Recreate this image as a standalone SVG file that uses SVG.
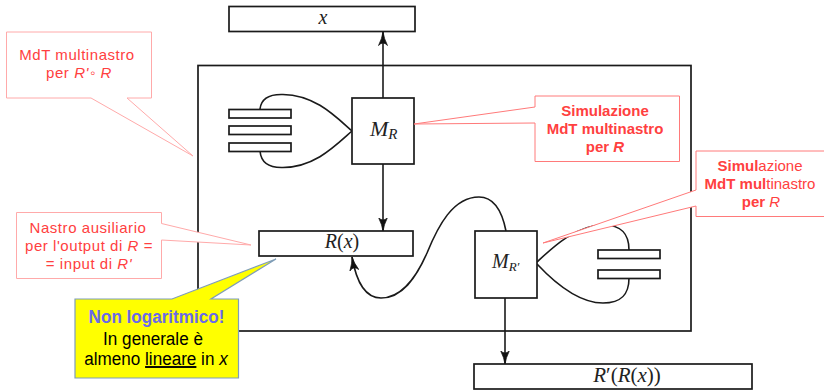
<svg xmlns="http://www.w3.org/2000/svg" width="824" height="390" viewBox="0 0 824 390">
<defs>
<marker id="arr" markerUnits="userSpaceOnUse" markerWidth="15" markerHeight="14" refX="13.500" refY="7" orient="auto">
<path d="M0,2.500 Q7,6 13.500,7 Q7,8 0,11.500 Q5,7 0,2.500 Z" fill="#111" stroke="#111" stroke-width="0.7"/>
</marker>
</defs>
<style>
.b{fill:#fff;stroke:#1a1a1a;stroke-width:1.7}
.f{fill:none;stroke:#1a1a1a;stroke-width:1.7}
.w{fill:none;stroke:#1a1a1a;stroke-width:1.6}
.c{fill:#fff;stroke:#ff7a7a;stroke-width:1}
.l{stroke:#ffaaaa}
.t{font-family:"Liberation Sans",Arial,sans-serif;font-size:15px;fill:#ff4040;text-anchor:middle}
.s{letter-spacing:0.55px}
.tb{font-weight:bold}
.m{font-family:"Liberation Serif","Times New Roman",serif;font-size:20px;fill:#222;text-anchor:middle}
.y{font-family:"Liberation Sans",Arial,sans-serif;font-size:19px;fill:#000;text-anchor:middle}
.i{font-style:italic}
</style>
<g id="frame"><rect class="f" x="198" y="65.500" width="493" height="265.500"/></g>
<g id="connectors">
<path class="w" d="M383,98 L383,32" marker-end="url(#arr)"/>
<path class="w" d="M383,164 L383,231" marker-end="url(#arr)"/>
<path class="w" d="M505,298 L505,364" marker-end="url(#arr)"/>
<path class="w" d="M506,231 C501,206 491,197 479,197 C453,197 438,226 427,253 C416,278 402,298 381,298 C365,298 356,280 352,257" marker-end="url(#arr)"/>
<path class="w" d="M352,131 C335,116 315,95 283,94.500 C268,94 261,100 260,109"/>
<path class="w" d="M352,131 C335,146 315,167 283,167.500 C268,168 261,162 260,151"/>
<path class="w" d="M537,262 C550,250 575,225 603,225 C622,225 629,234 629,250"/>
<path class="w" d="M537,264 C552,280 578,303 603,303 C622,303 629,294 629,278"/>
</g>
<g id="tape-x"><rect class="b" x="229" y="6.500" width="186" height="25"/><text class="m i" x="323" y="24">x</text></g>
<g id="machine-r"><rect class="b" x="352" y="98" width="62" height="66"/><text class="m i" x="370" y="136" style="font-size:22px;text-anchor:start">M<tspan dy="3" style="font-size:15px">R</tspan></text></g>
<g id="tapes-r">
<rect class="b" x="229" y="109.500" width="62" height="8.500"/>
<rect class="b" x="229" y="126" width="62" height="8.500"/>
<rect class="b" x="229" y="143" width="62" height="8.500"/>
</g>
<g id="tape-rx"><rect class="b" x="259" y="231" width="154" height="25"/><text class="m" x="342" y="248"><tspan class="i">R</tspan>(<tspan class="i">x</tspan>)</text></g>
<g id="machine-r2"><rect class="b" x="475" y="231" width="62" height="67"/><text class="m i" x="492" y="268" style="font-size:20px;text-anchor:start">M<tspan dy="3" style="font-size:13px">R′</tspan></text></g>
<g id="tapes-r2">
<rect class="b" x="598" y="250" width="62" height="8.500"/>
<rect class="b" x="598" y="270" width="62" height="8.500"/>
</g>
<g id="tape-rrx"><rect class="b" x="474" y="364" width="278" height="25"/><text class="m" x="627" y="382" style="font-size:21px"><tspan class="i">R</tspan>′(<tspan class="i">R</tspan>(<tspan class="i">x</tspan>))</text></g>
<g id="callout-mdt">
<path class="c l" d="M6.500,32 H151.500 V98 H127 L193,156 L91,98 H6.500 Z"/>
<text class="t s" x="77" y="60">MdT multinastro</text>
<text class="t s" x="79" y="78">per <tspan class="i">R'</tspan><tspan dx="1">◦</tspan> <tspan class="i">R</tspan></text>
</g>
<g id="callout-nastro">
<path class="c l" d="M16.500,212.500 H161.500 V223.500 L251,245 L161.500,240 V278.500 H16.500 Z"/>
<text class="t s" x="88" y="233">Nastro ausiliario</text>
<text class="t s" x="89" y="251">per l'output di <tspan class="i">R</tspan> =</text>
<text class="t s" x="89" y="269">= input di <tspan class="i">R'</tspan></text>
</g>
<g id="callout-logaritmico">
<path d="M75,299 H172 L276,259 L211,299 H238.500 V378 H75 Z" fill="#ffff00" stroke="#7f9db9" stroke-width="1.2"/>
<text class="y" transform="translate(156.500,323) scale(0.9,1)" style="fill:#6a6ae8;font-weight:bold">Non logaritmico!</text>
<text class="y" transform="translate(153,345) scale(0.9,1)">In generale è</text>
<text class="y" transform="translate(156,365) scale(0.9,1)">almeno <tspan text-decoration="underline">lineare</tspan> in <tspan class="i">x</tspan></text>
</g>
<g id="callout-sim1">
<path class="c" d="M535,96 H679.500 V161.500 H535 V123 L414,124 L535,107 Z"/>
<text class="t tb" x="605" y="116">Simulazione</text>
<text class="t tb" x="605" y="134">MdT multinastro</text>
<text class="t tb" x="605" y="152">per <tspan class="i">R</tspan></text>
</g>
<g id="callout-sim2">
<path class="c" d="M824,151 H696 V190 L543,243 L696,206 V216.500 H824"/>
<text class="t" x="760" y="171"><tspan class="tb">Simul</tspan>azione</text>
<text class="t" x="760" y="189"><tspan class="tb">MdT mul</tspan>tinastro</text>
<text class="t" x="761" y="207"><tspan class="tb">per</tspan> <tspan class="i">R</tspan></text>
</g>
</svg>
